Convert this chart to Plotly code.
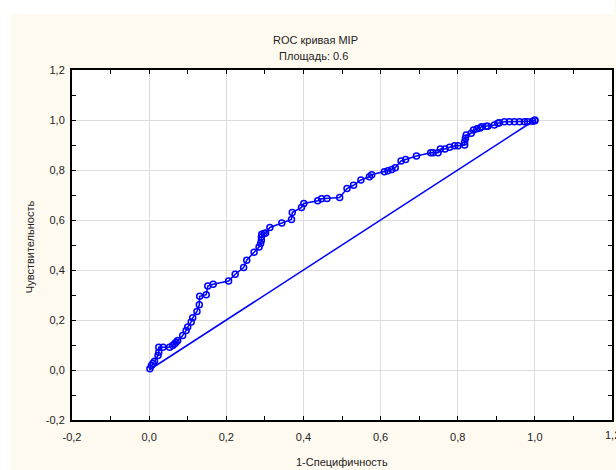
import plotly.graph_objects as go

# ROC curve points
fpr = [0.002,0.006,0.010,0.014,0.023,0.025,0.025,0.036,0.053,0.061,
       0.066,0.070,0.074,0.087,0.096,0.100,0.109,0.113,0.124,0.130,
       0.131,0.148,0.152,0.166,0.206,0.223,0.245,0.253,0.272,0.285,
       0.289,0.291,0.291,0.292,0.298,0.302,0.313,0.344,0.369,0.371,
       0.395,0.401,0.437,0.447,0.461,0.494,0.513,0.530,0.549,0.571,
       0.577,0.610,0.619,0.629,0.638,0.653,0.665,0.693,0.730,0.736,
       0.749,0.755,0.767,0.779,0.792,0.801,0.818,0.818,0.820,0.822,
       0.835,0.841,0.850,0.858,0.862,0.874,0.878,0.895,0.904,0.908,
       0.921,0.934,0.947,0.960,0.973,0.981,0.994,1.0,1.0]
tpr = [0.005,0.018,0.027,0.035,0.058,0.071,0.091,0.091,0.091,0.098,
       0.105,0.111,0.118,0.138,0.158,0.172,0.192,0.209,0.234,0.261,
       0.295,0.301,0.336,0.343,0.356,0.383,0.410,0.439,0.471,0.492,
       0.506,0.519,0.532,0.543,0.546,0.548,0.570,0.588,0.602,0.630,
       0.650,0.666,0.677,0.685,0.686,0.690,0.726,0.739,0.760,0.773,
       0.781,0.793,0.797,0.802,0.809,0.836,0.842,0.856,0.869,0.869,
       0.869,0.884,0.884,0.891,0.897,0.897,0.900,0.913,0.927,0.940,
       0.947,0.960,0.965,0.968,0.973,0.975,0.975,0.980,0.987,0.989,
       0.993,0.993,0.993,0.993,0.993,0.993,0.995,0.997,1.0]

chance_x = [0.0, 1.0]
chance_y = [0.0, 1.0]

tick_vals = [-0.2, 0.0, 0.2, 0.4, 0.6, 0.8, 1.0, 1.2]
tick_text = ["-0,2", "0,0", "0,2", "0,4", "0,6", "0,8", "1,0", "1,2"]

title_text = "ROC кривая MIP"
subtitle_text = "Площадь: 0.6"
x_title = "1-Специфичность"
y_title = "Чувствительность"

W, H = 616, 470
L, R, T, B = 72, 2, 70, 50
PW, PH = W - L - R, H - T - B

def px(x):
    return (x - L) / PW

def py(y):
    return (H - B - y) / PH

BLUE = "#0000ff"
FONT = "Liberation Sans, Arial, sans-serif"
TXT = "#222"

fig = go.Figure()
fig.add_trace(go.Scatter(x=chance_x, y=chance_y, mode="lines",
                         line=dict(color=BLUE, width=1.5), hoverinfo="skip"))
fig.add_trace(go.Scatter(x=fpr, y=tpr, mode="lines+markers",
                         line=dict(color=BLUE, width=1.5),
                         marker=dict(symbol="circle-open", size=6,
                                     color=BLUE, line=dict(width=1.5, color=BLUE))))

axis_common = dict(
    range=[-0.2, 1.2], tickvals=tick_vals, ticktext=tick_text,
    showgrid=True, gridcolor="#dcdcdc", gridwidth=1, zeroline=False,
    showline=True, linecolor="black", linewidth=2, mirror="ticks",
    ticks="inside", ticklen=4, tickcolor="black", tickwidth=1,
    minor=dict(ticks="inside", ticklen=4, dtick=0.1, tickcolor="black", showgrid=False),
    tickfont=dict(family=FONT, size=11, color=TXT),
    fixedrange=True,
)

fig.update_xaxes(**axis_common, ticklabelstandoff=6)
fig.update_yaxes(**axis_common, ticklabelstandoff=3)

annotations = [
    dict(text=title_text, x=px(316), y=py(40), xref="paper", yref="paper",
         showarrow=False, font=dict(family=FONT, size=11, color=TXT),
         xanchor="center", yanchor="middle"),
    dict(text=subtitle_text, x=px(314), y=py(56), xref="paper", yref="paper",
         showarrow=False, font=dict(family=FONT, size=11, color=TXT),
         xanchor="center", yanchor="middle"),
    dict(text=x_title, x=px(343), y=py(462), xref="paper", yref="paper",
         showarrow=False, font=dict(family=FONT, size=11, color=TXT),
         xanchor="center", yanchor="middle"),
    dict(text=y_title, x=px(30), y=py(247), xref="paper", yref="paper",
         showarrow=False, textangle=-90, font=dict(family=FONT, size=11, color=TXT),
         xanchor="center", yanchor="middle"),
    # last x tick label, partly outside the picture as in the reference
    dict(text=tick_text[-1], x=tick_vals[-1], y=py(435), xref="x", yref="paper",
         showarrow=False, font=dict(family=FONT, size=11, color=TXT),
         xanchor="center", yanchor="middle"),
]

shapes = [
    dict(type="rect", xref="paper", yref="paper", x0=px(0), x1=px(11),
         y0=py(H), y1=py(0), fillcolor="white", line=dict(width=0), layer="below"),
    dict(type="rect", xref="paper", yref="paper", x0=px(0), x1=px(W),
         y0=py(14), y1=py(0), fillcolor="white", line=dict(width=0), layer="below"),
]

fig.update_layout(
    width=W, height=H,
    margin=dict(l=L, r=R, t=T, b=B),
    paper_bgcolor="#fffaf0", plot_bgcolor="white",
    showlegend=False,
    annotations=annotations, shapes=shapes,
    font=dict(family=FONT, size=11, color=TXT),
)

fig.write_html("out.html", config={"displayModeBar": False},
               post_script="document.body.style.margin='0px';document.body.style.padding='0px';")
